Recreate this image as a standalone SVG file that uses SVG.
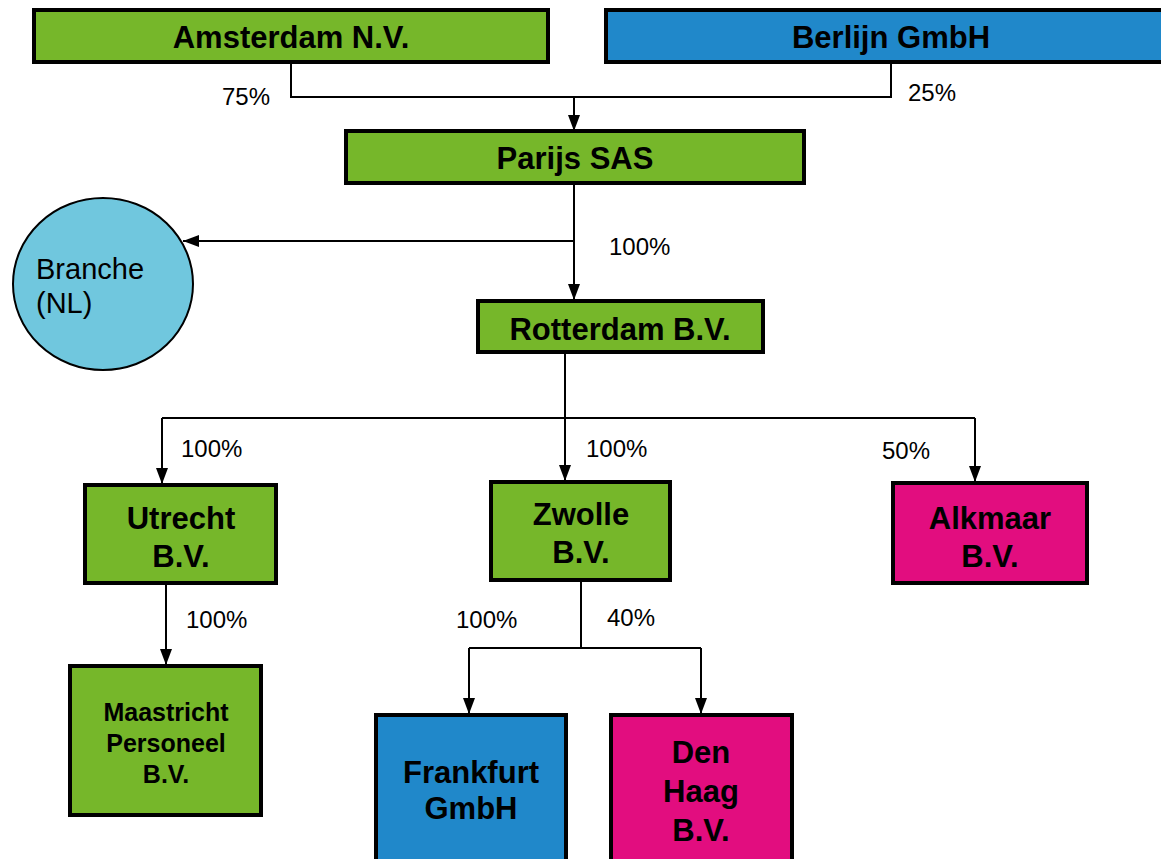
<svg xmlns="http://www.w3.org/2000/svg" width="1161" height="859" viewBox="0 0 1161 859">
<defs>
<marker id="arr" viewBox="0 0 16 12" refX="16" refY="6" markerWidth="16" markerHeight="12" markerUnits="userSpaceOnUse" orient="auto">
<path d="M0,0 L16,6 L0,12 z" fill="#000"/>
</marker>
<style>
.box{stroke:#000;stroke-width:4;}
.g{fill:#76B72A;}
.b{fill:#2088CA;}
.m{fill:#E20D7F;}
.t{font-family:"Liberation Sans",Arial,sans-serif;font-weight:bold;font-size:31px;fill:#000;text-anchor:middle;}
.ts{font-family:"Liberation Sans",Arial,sans-serif;font-weight:bold;font-size:25px;fill:#000;text-anchor:middle;}
.p{font-family:"Liberation Sans",Arial,sans-serif;font-size:24px;fill:#000;}
.c{fill:none;stroke:#000;stroke-width:2;}
.ca{fill:none;stroke:#000;stroke-width:2;marker-end:url(#arr);}
</style>
</defs>
<rect width="1161" height="859" fill="#fff"/>
<g id="connectors">
<polyline class="c" points="291,62 291,97 891,97 891,62"/>
<line class="ca" x1="574" y1="97" x2="574" y2="131"/>
<line class="ca" x1="574" y1="183" x2="574" y2="300"/>
<line class="ca" x1="574" y1="241" x2="183" y2="241"/>
<line class="c" x1="565" y1="352" x2="565" y2="418"/>
<polyline class="ca" points="162,418 162,484"/>
<line class="c" x1="162" y1="418" x2="975" y2="418"/>
<line class="ca" x1="565" y1="418" x2="565" y2="481"/>
<polyline class="ca" points="975,418 975,482"/>
<line class="ca" x1="166" y1="583" x2="166" y2="665"/>
<line class="c" x1="581" y1="580" x2="581" y2="648"/>
<line class="c" x1="469" y1="648" x2="701" y2="648"/>
<line class="ca" x1="469" y1="648" x2="469" y2="714"/>
<line class="ca" x1="701" y1="648" x2="701" y2="714"/>
<text class="p" x="222" y="105">75%</text>
<text class="p" x="908" y="101">25%</text>
<text class="p" x="609" y="255">100%</text>
<text class="p" x="181" y="457">100%</text>
<text class="p" x="586" y="457">100%</text>
<text class="p" x="882" y="459">50%</text>
<text class="p" x="186" y="628">100%</text>
<text class="p" x="456" y="628">100%</text>
<text class="p" x="607" y="626">40%</text>
</g>
<g id="amsterdam"><rect class="box g" x="34" y="10" width="514" height="52"/><text class="t" x="291" y="48">Amsterdam N.V.</text></g>
<g id="berlijn"><rect class="box b" x="606" y="10" width="560" height="52"/><text class="t" x="891" y="48">Berlijn GmbH</text></g>
<g id="parijs"><rect class="box g" x="346" y="131" width="458" height="52"/><text class="t" x="575" y="169">Parijs SAS</text></g>
<g id="branche"><ellipse cx="103" cy="284" rx="90" ry="86" fill="#70C7DE" stroke="#000" stroke-width="2"/><text class="p" style="font-size:29px" x="36" y="279">Branche</text><text class="p" style="font-size:29px" x="36" y="313">(NL)</text></g>
<g id="rotterdam"><rect class="box g" x="478" y="301" width="285" height="51"/><text class="t" x="620" y="340">Rotterdam B.V.</text></g>
<g id="utrecht"><rect class="box g" x="85" y="485" width="191" height="98"/><text class="t" x="181" y="529">Utrecht</text><text class="t" x="181" y="567">B.V.</text></g>
<g id="zwolle"><rect class="box g" x="491" y="482" width="179" height="98"/><text class="t" x="581" y="525">Zwolle</text><text class="t" x="581" y="563">B.V.</text></g>
<g id="alkmaar"><rect class="box m" x="893" y="483" width="194" height="100"/><text class="t" x="990" y="529">Alkmaar</text><text class="t" x="990" y="567">B.V.</text></g>
<g id="maastricht"><rect class="box g" x="70" y="666" width="191" height="149"/><text class="ts" x="166" y="721">Maastricht</text><text class="ts" x="166" y="752">Personeel</text><text class="ts" x="166" y="783">B.V.</text></g>
<g id="frankfurt"><rect class="box b" x="376" y="715" width="190" height="150"/><text class="t" x="471" y="783">Frankfurt</text><text class="t" x="471" y="819">GmbH</text></g>
<g id="denhaag"><rect class="box m" x="611" y="715" width="181" height="150"/><text class="t" x="701" y="763">Den</text><text class="t" x="701" y="802">Haag</text><text class="t" x="701" y="841">B.V.</text></g>
</svg>
